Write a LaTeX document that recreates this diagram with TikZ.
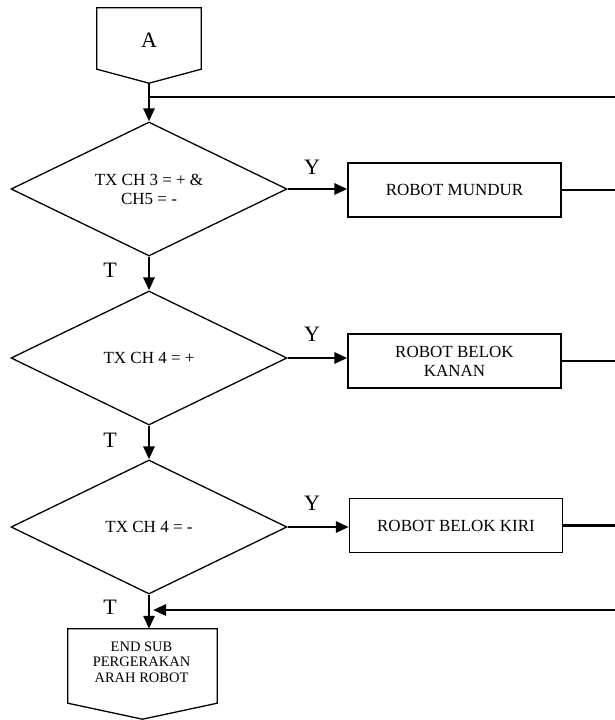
\documentclass[tikz,border=0pt]{standalone}
\usepackage{fontspec}
\setmainfont{Liberation Serif}
\usetikzlibrary{shapes.geometric,arrows.meta}
\begin{document}
\begin{tikzpicture}[x=1pt,y=-1pt,
  outline/.style={draw=black,line width=1.3pt},
  decision/.style={diamond,outline,aspect=2,inner sep=0pt,
    minimum width=276pt,minimum height=134pt,align=center,
    font=\fontsize{17}{19}\selectfont},
  process/.style={rectangle,outline,inner sep=0pt,
    minimum width=213pt,minimum height=54pt,align=center,
    font=\fontsize{17}{19}\selectfont},
  offpage/.style={rectangle,inner sep=0pt,align=center},
  flow/.style={line width=2.8pt},
  flowarrow/.style={flow,-{Triangle[length=13pt,width=11pt]}},
  branch/.style={font=\fontsize{22}{22}\selectfont}
]
\useasboundingbox (0,0) rectangle (615,720);

% off-page connector A
\node[offpage,minimum width=104pt,minimum height=75pt] (A) at (149,45.5) {};
\node[font=\fontsize{22}{22}\selectfont] (Atext) at (149,40) {A};
\draw[outline,line join=miter] (A.north west) -- (A.north east) -- ([yshift=14pt]A.south east)
  -- (A.south) -- ([yshift=14pt]A.south west) -- cycle;

% decisions
\node[decision] (D1) at (149,189) {TX CH 3 = + \&\\CH5 = -};
\node[decision] (D2) at (149,358) {TX CH 4 = +};
\node[decision] (D3) at (149,527) {TX CH 4 = -};

% actions
\node[process] (B1) at (454.5,190) {ROBOT MUNDUR};
\node[process] (B2) at (454.5,361) {ROBOT BELOK\\KANAN};
\node[process] (B3) at (456,525.5) {ROBOT BELOK KIRI};

% end-of-subroutine connector
\node[offpage,minimum width=149pt,minimum height=90pt] (E) at (142.5,674) {};
\node[align=center,font=\fontsize{14.5}{15.5}\selectfont] (Etext) at (141.5,662) {END SUB\\PERGERAKAN\\ARAH ROBOT};
\draw[outline,line join=miter] (E.north west) -- (E.north east) -- ([yshift=16pt]E.south east)
  -- (E.south) -- ([yshift=16pt]E.south west) -- cycle;

% return bus on the right
\coordinate (busTop) at (615,97);
\coordinate (busBot) at (615,610);
\coordinate (edge) at (615,0);

% main flow
\draw[flowarrow] (A.south) -- (D1.north);
\draw[flow] (A.south |- busTop) -- (busTop);
\draw[flowarrow] (D1.south) -- (D2.north);
\draw[flowarrow] (D2.south) -- (D3.north);
\draw[flowarrow] (D3.south) -- (D3.south |- E.north);
\draw[flowarrow,shorten >=4pt] (busBot) -- (D3.south |- busBot);

% yes branches
\draw[flowarrow] (D1.east) -- (B1.west |- D1.east);
\draw[flowarrow] (D2.east) -- (B2.west |- D2.east);
\draw[flowarrow] (D3.east) -- (B3.west |- D3.east);
\draw[flow] (B1.east) -- (B1.east -| edge);
\draw[flow] (B2.east) -- (B2.east -| edge);
\draw[flow] (B3.east) -- (B3.east -| edge);

% branch labels
\node[branch] (y1) at (312,167) {Y};
\node[branch] (y2) at (312,334) {Y};
\node[branch] (y3) at (312,503) {Y};
\node[branch] (t1) at (110,270) {T};
\node[branch] (t2) at (110,440) {T};
\node[branch] (t3) at (110,607) {T};
\end{tikzpicture}
\end{document}
